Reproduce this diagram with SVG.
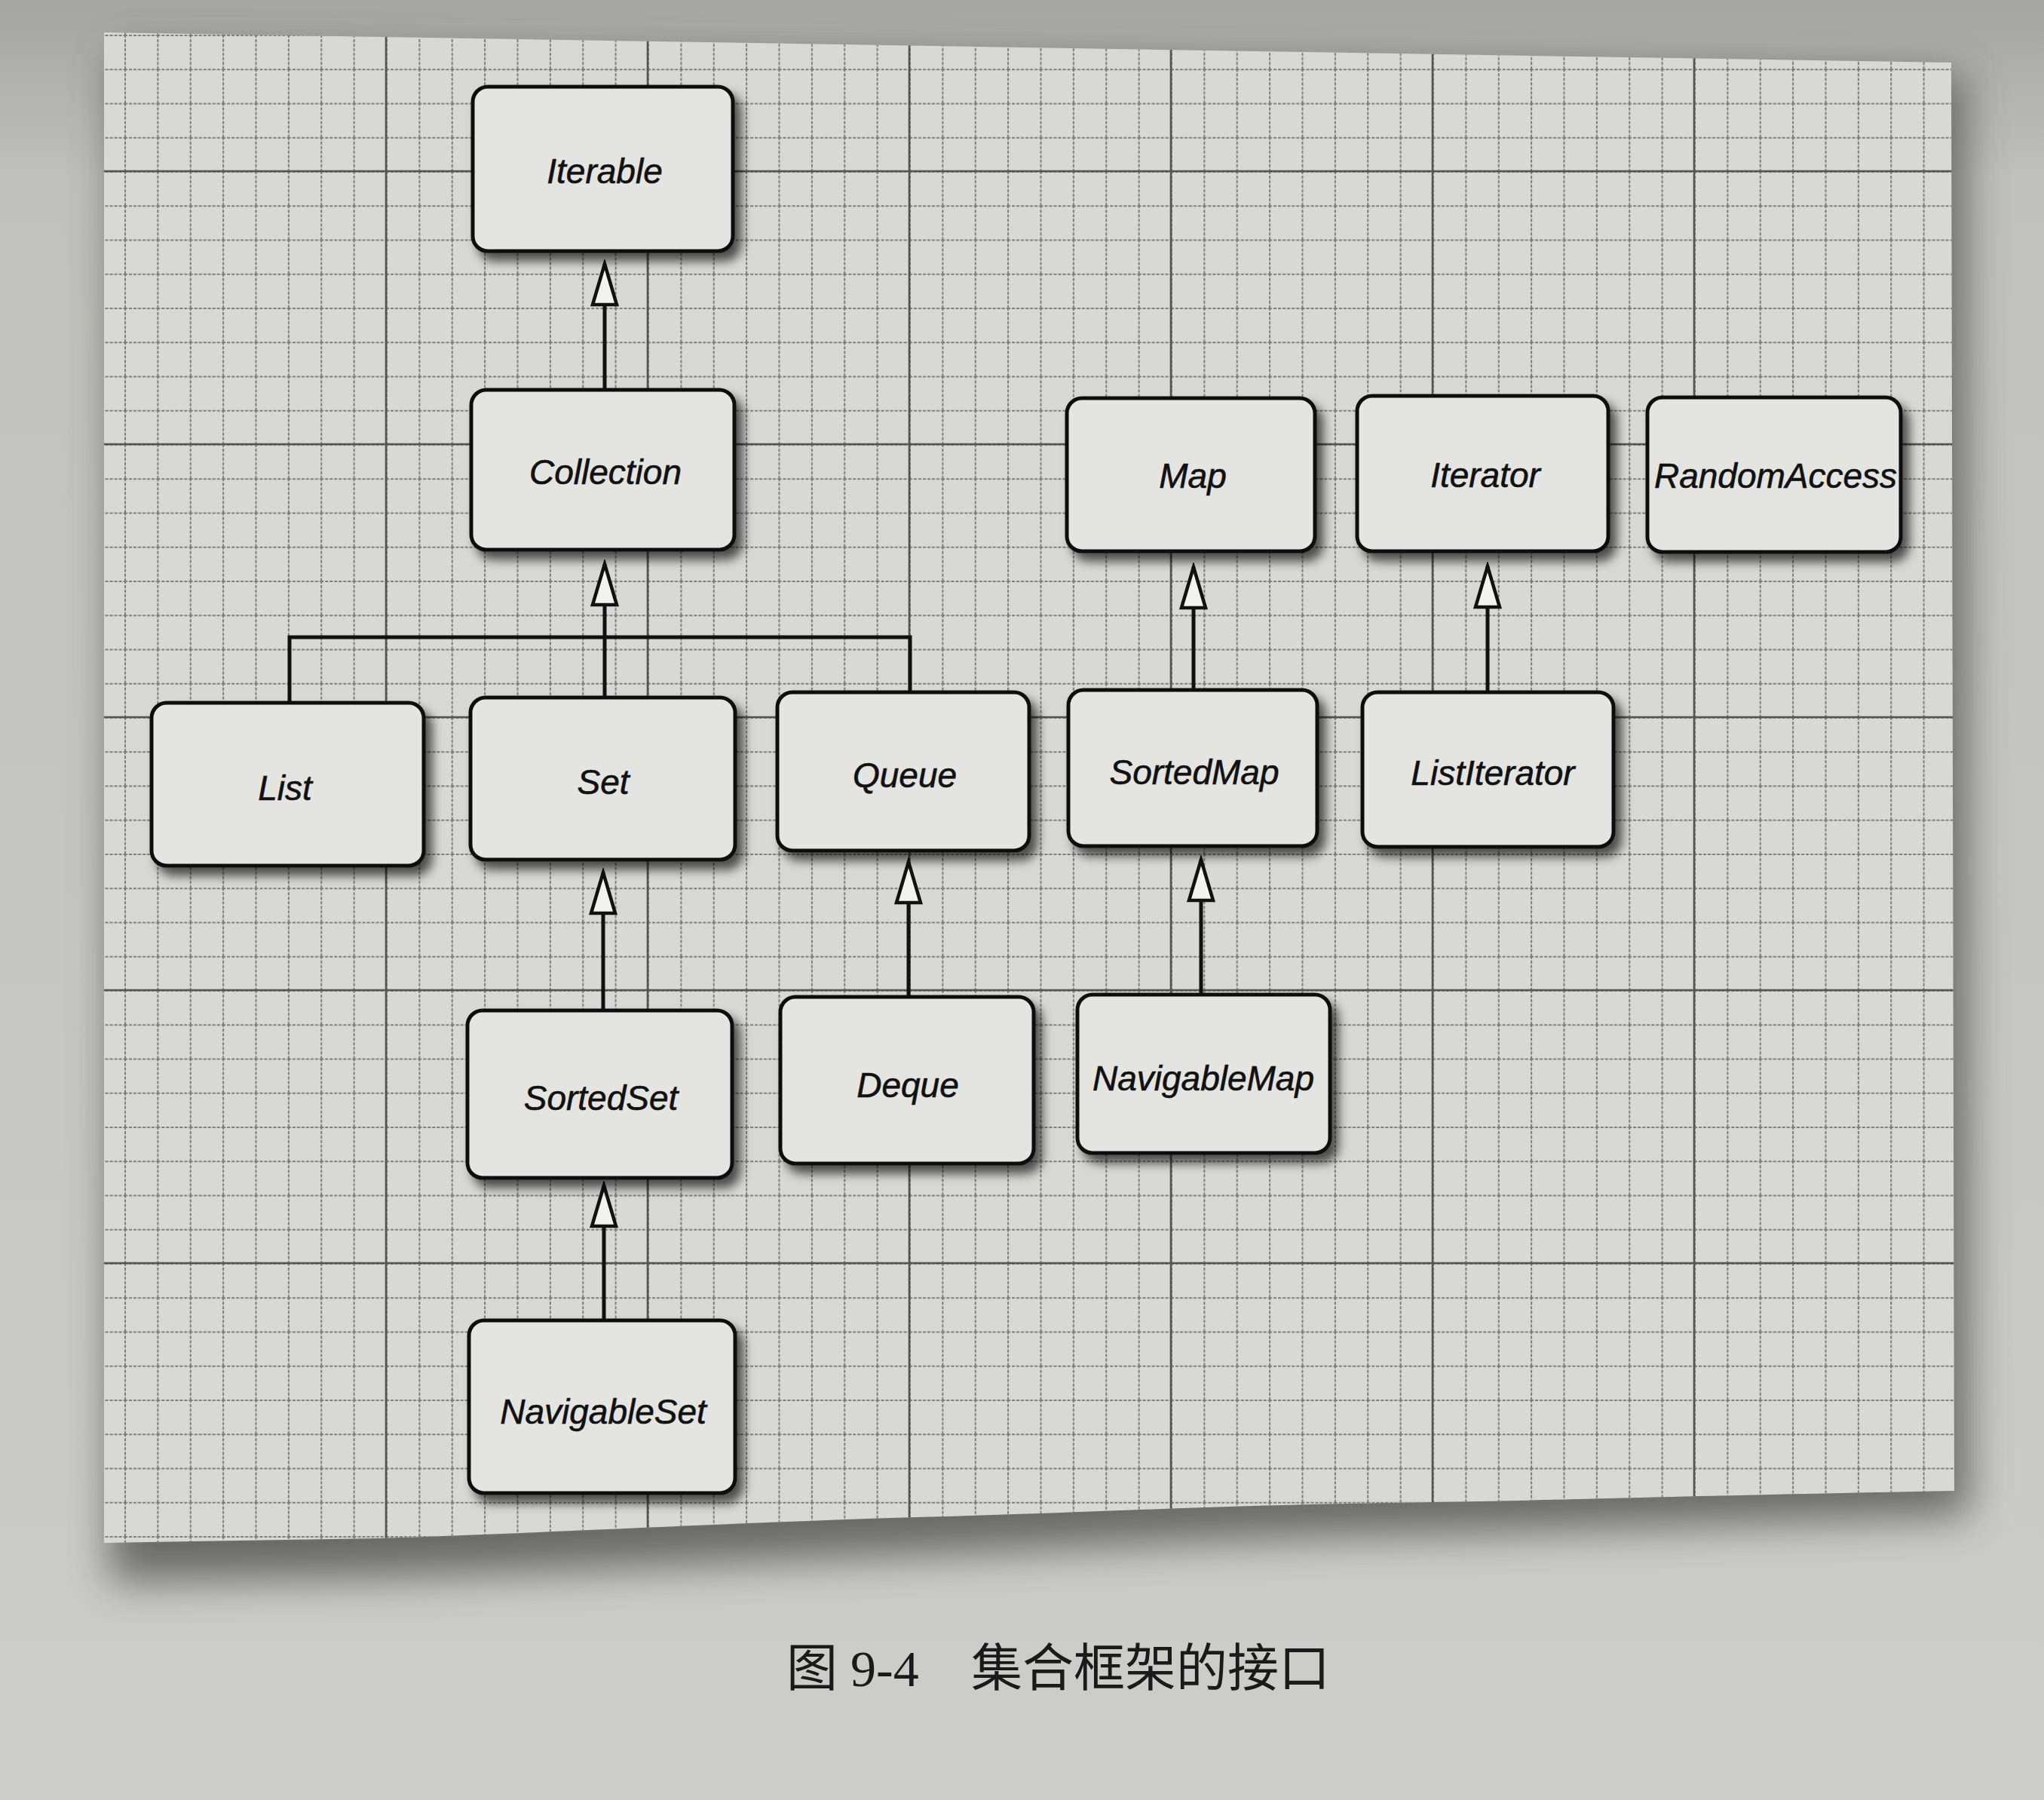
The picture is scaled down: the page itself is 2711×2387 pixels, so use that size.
<svg xmlns="http://www.w3.org/2000/svg" width="2711" height="2387" viewBox="0 0 2711 2387">
<style>
.box{fill:#e4e4e0;stroke:#111;stroke-width:5;filter:url(#nodeShadow)}
.lbl{font-family:"Liberation Sans",Arial,sans-serif;font-style:italic;font-size:46px;fill:#111;stroke:#111;stroke-width:0.6;text-anchor:middle}
.conn{fill:none;stroke:#111;stroke-width:5}
.minor{stroke:#7c7c78;stroke-width:2;stroke-dasharray:4 2}
.major{stroke:#555551;stroke-width:2.6;fill:none}
.cap{font-family:"Liberation Serif","Noto Sans CJK SC",serif;font-size:68px;fill:#1a1a1a}
</style>
<defs>
<linearGradient id="bg" x1="0" y1="0" x2="0" y2="1">
<stop offset="0" stop-color="#a4a4a0"/>
<stop offset="0.1" stop-color="#c0c0bc"/>
<stop offset="1" stop-color="#cdcdc9"/>
</linearGradient>
<filter id="paperShadow" x="-10%" y="-10%" width="120%" height="120%">
<feGaussianBlur stdDeviation="28"/>
</filter>
<filter id="nodeShadow" x="-20%" y="-20%" width="150%" height="150%">
<feDropShadow dx="9" dy="11" stdDeviation="7" flood-color="#000" flood-opacity="0.65"/>
</filter>
<clipPath id="paperClip">
<path d="M138,43 L2588,83 L2592,1977 C2300,1982 2050,1990 1900,1992 C1600,1996 1400,2008 1214,2012 C950,2020 700,2034 500,2040 L138,2046 Z"/>
</clipPath>
<pattern id="grid" patternUnits="userSpaceOnUse" x="165" y="-135" width="43.375" height="45.25">
<path class="minor" d="M0,1 H43.375 M1,0 V45.25"/>
</pattern>
<marker id="hollow" markerUnits="userSpaceOnUse" markerWidth="64" markerHeight="44" refX="58" refY="20" orient="auto">
<path d="M4,4 L58,20 L4,36 Z" fill="#f2f2ee" stroke="#111" stroke-width="4.5" stroke-linejoin="miter"/>
</marker>
</defs>

<rect x="0" y="0" width="2711" height="2387" fill="url(#bg)"/>
<g id="paper">
<path d="M150,70 L2605,100 L2612,2010 C2300,2020 2050,2030 1900,2034 C1600,2040 1400,2055 1214,2062 C950,2072 700,2086 500,2092 L145,2098 Z" fill="#4a4a48" opacity="0.75" filter="url(#paperShadow)"/>
<path d="M138,43 L2588,83 L2592,1977 C2300,1982 2050,1990 1900,1992 C1600,1996 1400,2008 1214,2012 C950,2020 700,2034 500,2040 L138,2046 Z" fill="#d8d8d4"/>
<g clip-path="url(#paperClip)">
<rect x="138" y="40" width="2460" height="2010" fill="url(#grid)"/>
<path class="major" d="M512,0 V2100 M859,0 V2100 M1206,0 V2100 M1553,0 V2100 M1900,0 V2100 M2247,0 V2100 M100,227 H2600 M100,589 H2600 M100,951 H2600 M100,1313 H2600 M100,1675 H2600"/>
</g>
</g>

<g id="connectors">
<path class="conn" d="M802,517 V350" marker-end="url(#hollow)"/>
<path class="conn" d="M384,932 V845 H1207 V918"/>
<path class="conn" d="M802,925 V748" marker-end="url(#hollow)"/>
<path class="conn" d="M800,1340 V1157" marker-end="url(#hollow)"/>
<path class="conn" d="M1205,1322 V1143" marker-end="url(#hollow)"/>
<path class="conn" d="M1583,915 V752" marker-end="url(#hollow)"/>
<path class="conn" d="M1973,918 V751" marker-end="url(#hollow)"/>
<path class="conn" d="M1593,1319 V1140" marker-end="url(#hollow)"/>
<path class="conn" d="M801,1751 V1572" marker-end="url(#hollow)"/>
</g>

<g id="node-iterable"><rect class="box" x="627" y="115" width="345" height="218" rx="20"/><text class="lbl" x="802" y="243">Iterable</text></g>
<g id="node-collection"><rect class="box" x="625" y="517" width="349" height="212" rx="20"/><text class="lbl" x="803" y="642">Collection</text></g>
<g id="node-map"><rect class="box" x="1415" y="528" width="329" height="203" rx="20"/><text class="lbl" x="1582" y="647">Map</text></g>
<g id="node-iterator"><rect class="box" x="1800" y="525" width="333" height="206" rx="20"/><text class="lbl" x="1970" y="646">Iterator</text></g>
<g id="node-randomaccess"><rect class="box" x="2185" y="527" width="336" height="205" rx="20"/><text class="lbl" x="2355" y="647">RandomAccess</text></g>
<g id="node-list"><rect class="box" x="201" y="932" width="361" height="216" rx="20"/><text class="lbl" x="378" y="1061">List</text></g>
<g id="node-set"><rect class="box" x="624" y="925" width="351" height="215" rx="20"/><text class="lbl" x="800" y="1053">Set</text></g>
<g id="node-queue"><rect class="box" x="1031" y="918" width="334" height="210" rx="20"/><text class="lbl" x="1200" y="1044">Queue</text></g>
<g id="node-sortedmap"><rect class="box" x="1417" y="915" width="330" height="207" rx="20"/><text class="lbl" x="1584" y="1040">SortedMap</text></g>
<g id="node-listiterator"><rect class="box" x="1807" y="918" width="333" height="205" rx="20"/><text class="lbl" x="1980" y="1041">ListIterator</text></g>
<g id="node-sortedset"><rect class="box" x="620" y="1340" width="351" height="222" rx="20"/><text class="lbl" x="797" y="1472">SortedSet</text></g>
<g id="node-deque"><rect class="box" x="1035" y="1322" width="336" height="221" rx="20"/><text class="lbl" x="1204" y="1455">Deque</text></g>
<g id="node-navigablemap"><rect class="box" x="1429" y="1319" width="335" height="210" rx="20"/><text class="lbl" x="1596" y="1446">NavigableMap</text></g>
<g id="node-navigableset"><rect class="box" x="622" y="1751" width="353" height="229" rx="20"/><text class="lbl" x="800" y="1888">NavigableSet</text></g>

<text class="cap" x="1043" y="2236">图 9-4<tspan x="1288">集合框架的接口</tspan></text>
</svg>
